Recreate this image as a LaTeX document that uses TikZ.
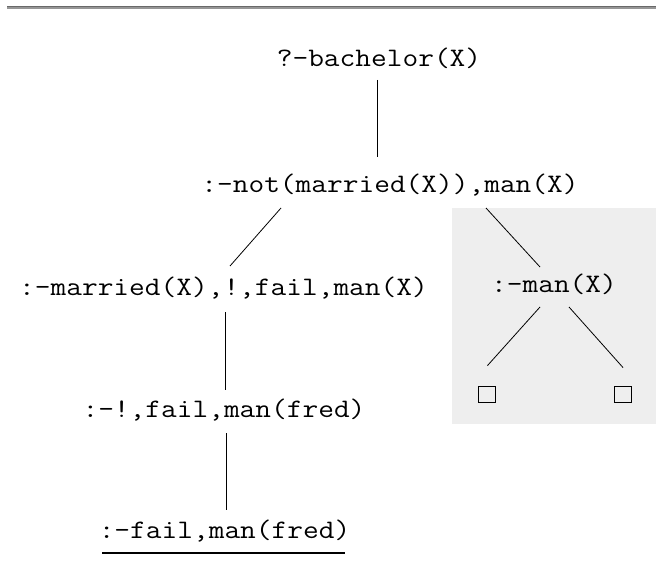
\documentclass[tikz,border=0pt]{standalone}
\usepackage{fontspec}
\setmonofont[FakeStretch=1.143]{Latin Modern Mono}
\begin{document}
\begin{tikzpicture}[x=1pt,y=-1pt,
  goal/.style={anchor=base,inner sep=0pt,font=\ttfamily\fontsize{26.7}{30}\selectfont},
  edge/.style={line width=0.8pt,black},
  leaf/.style={draw=black,line width=0.9pt,minimum width=17pt,minimum height=16pt,inner sep=0pt}]
  \useasboundingbox (0,0) rectangle (656,583);
  % rule across the top
  \draw[line width=1.1pt,color={rgb,255:red,105;green,105;blue,105}] (7,7) -- (656,7);
  \draw[line width=1.1pt,color={rgb,255:red,150;green,150;blue,150}] (7,8) -- (656,8);
  % shaded sub-tree area
  \fill[color={rgb,255:red,238;green,238;blue,238}] (452,208) rectangle (656,424);

  % goals
  \node[goal] (bach) at (379,67)   {?-bachelor(X)};
  \node[goal] (not)  at (390,193)  {:-not(married(X)),man(X)};
  \node[goal] (mar)  at (223.5,295) {:-married(X),!,fail,man(X)};
  \node[goal] (man)  at (554,292)  {:-man(X)};
  \node[goal] (bang) at (224,417)  {:-!,fail,man(fred)};
  \node[goal] (fail) at (224.5,538) {:-fail,man(fred)};
  \node[leaf] (s1) at (486.5,394) {};
  \node[leaf] (s2) at (623,394) {};

  % branches
  \draw[edge] ([shift={(-2,13)}]bach.base) -- ([shift={(-13,-36)}]not.base);
  \draw[edge] ([shift={(-109,15)}]not.base) -- ([shift={(6.5,-29)}]mar.base);
  \draw[edge] ([shift={(96,15)}]not.base) -- ([shift={(-14,-25)}]man.base);
  \draw[edge] ([shift={(-14,15)}]man.base) -- ([shift={(1,-20)}]s1.north);
  \draw[edge] ([shift={(15,15)}]man.base) -- ([shift={(0,-18)}]s2.north);
  \draw[edge] ([shift={(1.5,17)}]mar.base) -- ([shift={(1,-27)}]bang.base);
  \draw[edge] ([shift={(2,16)}]bang.base) -- ([shift={(1.5,-28)}]fail.base);
  % underline of the failing goal
  \draw[line width=2pt] ([shift={(-122.5,15)}]fail.base) -- ([shift={(120.5,15)}]fail.base);
\end{tikzpicture}
\end{document}
